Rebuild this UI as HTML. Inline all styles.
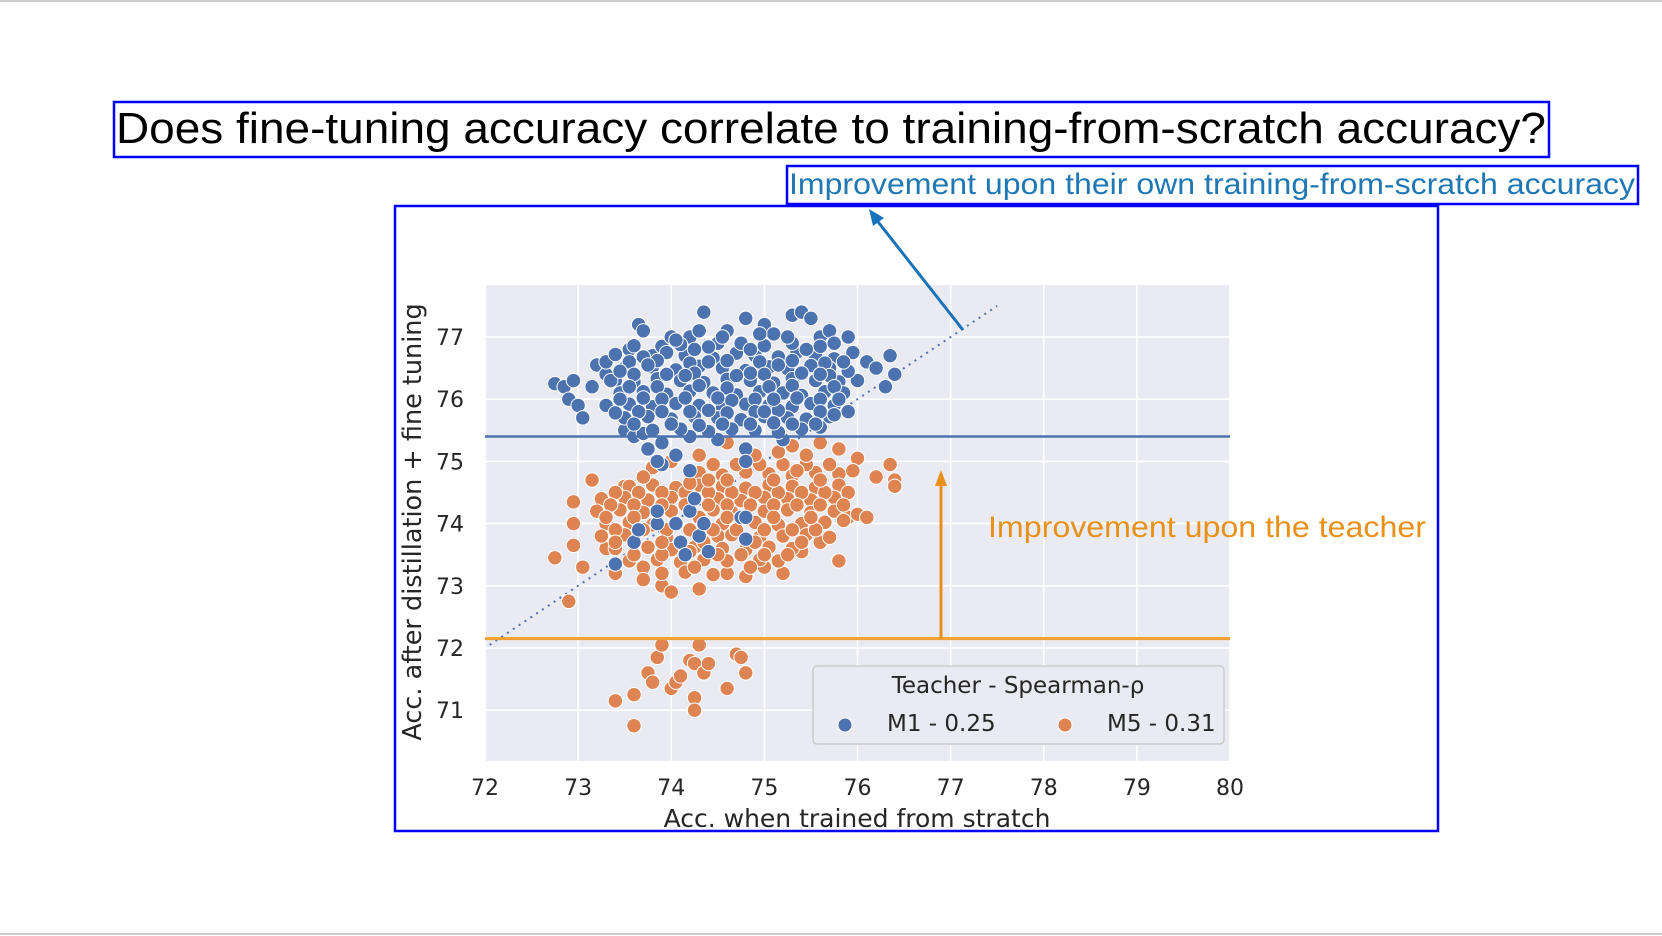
<!DOCTYPE html>
<html><head><meta charset="utf-8"><style>
html,body{margin:0;padding:0;background:#fff;width:1662px;height:936px;overflow:hidden}
svg{display:block}
</style></head><body>
<svg id="page" width="1662" height="936" viewBox="0 0 1662 936" xmlns="http://www.w3.org/2000/svg">
<rect x="0" y="0" width="1662" height="936" fill="#fff"/>
<line x1="0" y1="1" x2="1662" y2="1" stroke="#ccc" stroke-width="2"/>
<line x1="0" y1="934" x2="1662" y2="934" stroke="#ccc" stroke-width="2"/>
<g>
<rect x="114" y="102" width="1435" height="55" fill="none" stroke="#0000ff" stroke-width="2.5"/>
<text x="116" y="143" font-family="Liberation Sans, sans-serif" font-size="44" fill="#000" textLength="1430" lengthAdjust="spacingAndGlyphs">Does fine-tuning accuracy correlate to training-from-scratch accuracy?</text>
</g>
<g>
<rect x="787" y="166" width="851" height="38" fill="none" stroke="#0000ff" stroke-width="2.5"/>
<text x="789" y="194" font-family="Liberation Sans, sans-serif" font-size="30" fill="#1f77b4" textLength="846" lengthAdjust="spacingAndGlyphs">Improvement upon their own training-from-scratch accuracy</text>
</g>
<rect x="395" y="206" width="1043" height="625" fill="none" stroke="#0000ff" stroke-width="2.5"/>
<g id="chart"></g>
</svg>
<script>
const xTicks = [72,73,74,75,76,77,78,79,80];
const yTicks = [71,72,73,74,75,76,77];
const teacherM1 = 75.4;
const teacherM5 = 72.15;
const legendLabels = ["M1 - 0.25","M5 - 0.31"];
const m1Points = [
[72.75,76.25],[72.85,76.2],[72.95,76.3],[72.9,76.0],[73.0,75.9],[73.05,75.7],[73.15,76.2],[73.2,76.55],[73.3,76.4],[73.3,76.6],[73.4,76.3],[73.5,75.5],[73.6,75.4],[73.55,76.8],[73.65,77.2],[73.7,77.1],[73.8,76.7],[73.9,76.85],[74.0,77.0],[74.2,77.0],[74.3,77.1],[74.35,77.4],[74.5,76.9],[74.6,77.1],[74.8,77.3],[75.0,77.2],[75.1,77.05],[75.3,77.35],[75.4,77.4],[75.5,77.3],[75.6,77.0],[75.7,77.1],[75.9,77.0],[75.95,76.75],[76.1,76.6],[76.2,76.5],[76.35,76.7],[76.4,76.4],[76.3,76.2],[76.0,76.3],[75.9,75.8],[75.6,75.55],[75.2,75.35],[74.8,75.2],[74.5,75.35],[74.2,75.4],[73.9,75.3],[73.7,75.45],[73.75,75.2],
[73.4,76.72],[73.7,76.68],[73.95,76.75],[74.15,76.7],[74.45,76.66],[74.7,76.74],[74.9,76.7],[75.15,76.68],[75.35,76.76],[75.55,76.7],[75.75,76.65],
[73.5,76.5],[73.8,76.52],[74.05,76.47],[74.3,76.53],[74.55,76.5],[74.8,76.46],[75.05,76.52],[75.25,76.49],[75.5,76.54],[75.7,76.5],[75.9,76.45],
[73.35,76.3],[73.6,76.28],[73.85,76.33],[74.1,76.3],[74.35,76.27],[74.6,76.32],[74.85,76.3],[75.1,76.26],[75.3,76.33],[75.55,76.3],[75.8,76.28],
[73.45,76.1],[73.7,76.12],[73.95,76.08],[74.2,76.13],[74.45,76.1],[74.7,76.07],[74.95,76.12],[75.2,76.1],[75.4,76.06],[75.65,76.12],[75.85,76.1],
[73.3,75.9],[73.55,75.92],[73.8,75.88],[74.05,75.93],[74.3,75.9],[74.55,75.87],[74.8,75.92],[75.05,75.9],[75.3,75.88],[75.5,75.93],[75.75,75.9],
[73.5,75.7],[73.75,75.72],[74.0,75.68],[74.25,75.72],[74.5,75.7],[74.75,75.67],[75.0,75.72],[75.25,75.7],[75.45,75.68],[75.7,75.72],
[73.8,75.5],[74.1,75.52],[74.4,75.48],[74.65,75.52],[74.9,75.5],[75.15,75.47],[75.4,75.52],
[73.6,76.86],[74.1,76.88],[74.4,76.84],[74.75,76.9],[75.0,76.86],[75.3,76.9],[75.6,76.85],
[73.55,76.6],[73.85,76.62],[74.2,76.58],[74.6,76.62],[74.95,76.6],[75.3,76.62],[75.65,76.58],
[73.6,76.4],[73.95,76.4],[74.25,76.42],[74.7,76.38],[75.0,76.4],[75.4,76.42],[75.7,76.38],
[73.55,76.2],[73.85,76.2],[74.3,76.22],[74.6,76.18],[75.05,76.2],[75.3,76.22],[75.75,76.2],
[73.45,76.0],[73.9,76.0],[74.15,76.02],[74.65,75.98],[74.9,76.0],[75.35,76.02],[75.6,76.0],
[73.65,75.8],[73.9,75.8],[74.4,75.82],[74.6,75.78],[74.9,75.8],[75.15,75.82],[75.6,75.8],
[73.6,75.6],[74.0,75.6],[74.3,75.58],[74.85,75.6],[75.1,75.62],[75.55,75.6],
[74.05,76.95],[74.55,77.0],[74.95,77.05],[75.25,77.0],[75.75,76.9],[74.25,76.8],[74.85,76.8],[75.45,76.8],[73.75,76.55],[74.4,76.6],[75.15,76.55],[75.85,76.6],[73.45,76.45],[74.15,76.38],[74.85,76.42],[75.6,76.4],[73.7,76.02],[74.5,76.02],[75.1,76.0],[75.8,76.0],[73.4,75.78],[74.2,75.8],[75.0,75.8],[75.75,75.75],[74.55,75.6],[75.3,75.6],
[73.4,73.35],[73.6,73.7],[73.65,73.9],[73.85,74.0],[73.85,74.2],[74.05,74.0],[74.1,73.7],[74.15,73.5],[74.2,74.2],[74.25,74.4],[74.3,73.8],[74.35,74.0],[74.4,73.55],[74.75,74.1],[74.8,74.1],[74.8,73.75],[73.9,74.95],[74.2,74.85],[74.8,75.0],[74.05,75.1],[73.85,75.0]
];
const m5Points = [
[72.75,73.45],[72.9,72.75],[72.95,73.65],[72.95,74.35],[72.95,74.0],[73.05,73.3],[73.15,74.7],[73.3,73.6],[73.4,73.2],[73.5,74.6],[73.7,73.3],[73.9,73.0],[74.0,72.9],[74.3,72.95],[74.6,73.2],[74.8,73.15],[75.0,73.3],[75.2,73.2],[75.4,73.55],[75.6,73.7],[75.8,73.4],[75.9,74.1],[76.0,74.15],[76.1,74.1],[76.2,74.75],[76.35,74.95],[76.4,74.7],[76.4,74.6],[76.0,75.05],[75.8,75.2],[75.6,75.3],[75.3,75.25],[74.8,75.2],[74.6,75.3],[74.3,75.1],[74.0,75.0],[73.8,74.9],
[74.3,74.82],[74.55,74.78],[74.8,74.83],[75.05,74.8],[75.3,74.77],[75.55,74.82],[75.8,74.8],
[73.55,74.6],[73.8,74.62],[74.05,74.58],[74.3,74.62],[74.55,74.6],[74.8,74.57],[75.05,74.62],[75.3,74.6],[75.55,74.58],[75.8,74.62],
[73.25,74.4],[73.5,74.42],[73.75,74.38],[74.0,74.42],[74.5,74.4],[74.75,74.37],[75.0,74.42],[75.25,74.4],[75.5,74.38],[75.75,74.42],
[73.2,74.2],[73.45,74.22],[73.7,74.18],[74.0,74.2],[74.45,74.22],[74.65,74.18],[75.0,74.2],[75.25,74.22],[75.5,74.18],[75.75,74.2],
[73.3,74.0],[73.55,74.02],[73.8,73.98],[74.55,74.0],[74.9,74.02],[75.15,73.98],[75.4,74.0],[75.65,74.02],
[73.25,73.8],[73.5,73.82],[73.95,73.78],[74.5,73.8],[74.65,73.82],[74.95,73.78],[75.2,73.8],[75.45,73.82],[75.7,73.78],
[73.4,73.6],[73.75,73.62],[74.0,73.58],[74.25,73.62],[74.55,73.6],[74.8,73.58],[75.05,73.62],[75.3,73.6],
[73.55,73.4],[73.85,73.42],[74.1,73.38],[74.35,73.42],[74.6,73.4],[74.95,73.42],[75.15,73.4],
[73.9,73.2],[74.15,73.22],[74.45,73.18],
[73.4,74.5],[73.65,74.5],[73.9,74.5],[74.15,74.5],[74.4,74.5],[74.65,74.5],[74.9,74.5],[75.15,74.5],[75.4,74.5],[75.65,74.5],[75.9,74.5],
[73.35,74.3],[73.6,74.3],[73.9,74.3],[74.15,74.3],[74.4,74.3],[74.6,74.3],[74.85,74.3],[75.1,74.3],[75.35,74.3],[75.6,74.3],[75.85,74.3],
[73.4,73.9],[73.7,73.9],[73.95,73.9],[74.2,73.9],[74.45,73.9],[74.7,73.9],[75.0,73.9],[75.3,73.9],[75.55,73.9],
[73.6,73.5],[73.9,73.5],[74.2,73.55],[74.5,73.5],[74.75,73.5],[75.0,73.5],[75.25,73.5],
[74.45,74.95],[74.7,74.95],[74.95,74.95],[75.2,74.95],[75.45,74.95],[75.7,74.95],[74.9,75.1],[75.15,75.15],[75.45,75.1],
[74.2,74.65],[74.4,74.7],[73.7,74.75],
[73.3,74.1],[73.6,74.1],[74.3,74.1],[74.6,74.1],[75.1,74.1],[75.5,74.1],[75.85,74.05],[73.4,73.7],[73.9,73.7],[74.35,73.7],[74.9,73.7],[75.4,73.7],[73.7,73.1],[74.25,73.3],[74.85,73.3],[75.1,74.7],[75.6,74.7],[75.95,74.85],[74.6,74.7],[75.35,74.85],
[73.4,71.15],[73.6,70.75],[73.6,71.25],[73.75,71.6],[73.8,71.45],[73.85,71.85],[73.9,72.05],[74.0,71.35],[74.05,71.45],[74.1,71.55],[74.2,71.8],[74.25,71.75],[74.25,71.2],[74.25,71.0],[74.3,72.05],[74.35,71.6],[74.4,71.75],[74.6,71.35],[74.7,71.9],[74.75,71.85],[74.8,71.6]
];
const diagStart = 72.05, diagEnd = 77.5;

const NS = "http://www.w3.org/2000/svg";
const g = document.getElementById("chart");
const L = 485, R = 1230, T = 285, B = 761;
const X = v => L + (v - 72) * (R - L) / 8;
const Y = v => 337 + (77 - v) * 62.2;
function mk(tag, attrs, parent) {
  const e = document.createElementNS(NS, tag);
  for (const k in attrs) e.setAttribute(k, attrs[k]);
  (parent || g).appendChild(e);
  return e;
}
const FONT = "DejaVu Sans, Liberation Sans, sans-serif";
let e = mk("rect", {x: L, y: T, width: R - L, height: B - T, fill: "#eaeaf2"});


xTicks.forEach(t => {
  const gl = mk("line", {x1: X(t), x2: X(t), y1: T, y2: B, stroke: "#fff", "stroke-width": 1.6});
  
  
  const tl = mk("text", {x: X(t), y: 795, "text-anchor": "middle", "font-family": FONT, "font-size": 22, fill: "#262626"});
  tl.textContent = t;
  
  
});
yTicks.forEach(t => {
  const gl = mk("line", {x1: L, x2: R, y1: Y(t), y2: Y(t), stroke: "#fff", "stroke-width": 1.6});
  
  
  const tl = mk("text", {x: 464, y: Y(t) + 8, "text-anchor": "end", "font-family": FONT, "font-size": 22, fill: "#262626"});
  tl.textContent = t;
  
  
});
e = mk("text", {x: 857, y: 827, "text-anchor": "middle", "font-family": FONT, "font-size": 25, fill: "#262626"});
e.textContent = "Acc. when trained from stratch";


e = mk("text", {x: 0, y: 0, "text-anchor": "middle", "font-family": FONT, "font-size": 25.5, fill: "#262626", transform: "translate(421,522) rotate(-90)"});
e.textContent = "Acc. after distillation + fine tuning";


e = mk("line", {x1: X(diagStart), y1: Y(diagStart), x2: X(diagEnd), y2: Y(diagEnd), stroke: "#4c72b0", "stroke-width": 2, "stroke-dasharray": "2 5"});


m5Points.forEach(p => {
  const c = mk("circle", {cx: X(p[0]), cy: Y(p[1]), r: 7.2, fill: "#dd8452", stroke: "#fff", "stroke-width": 1});
  
  
});
m1Points.forEach(p => {
  const c = mk("circle", {cx: X(p[0]), cy: Y(p[1]), r: 7.2, fill: "#4c72b0", stroke: "#fff", "stroke-width": 1});
  
  
});
e = mk("line", {x1: L, x2: R, y1: Y(teacherM1), y2: Y(teacherM1), stroke: "#4c72b0", "stroke-width": 2.5});


e = mk("line", {x1: L, x2: R, y1: Y(teacherM5), y2: Y(teacherM5), stroke: "#f0a030", "stroke-width": 3});


e = mk("line", {x1: 941, x2: 941, y1: Y(teacherM5), y2: 482, stroke: "#e8901a", "stroke-width": 3});


e = mk("polygon", {points: "941,470 935,486 947,486", fill: "#e8901a"});


e = mk("text", {x: 988, y: 537, "font-family": "Liberation Sans, sans-serif", "font-size": 30, fill: "#e8901a", textLength: 438, lengthAdjust: "spacingAndGlyphs"});
e.textContent = "Improvement upon the teacher";


e = mk("line", {x1: 963, y1: 330, x2: 875, y2: 218, stroke: "#1a73b8", "stroke-width": 3});


e = mk("polygon", {points: "869,209 873,226 884,218", fill: "#1a73b8"});


const lg = mk("g", {});


mk("rect", {x: 813, y: 666, width: 411, height: 78, rx: 4, fill: "#eaeaf2", stroke: "#cccccc", "stroke-width": 1.5}, lg);
e = mk("text", {x: 1018, y: 693, "text-anchor": "middle", "font-family": FONT, "font-size": 23, fill: "#262626"}, lg);
e.textContent = "Teacher - Spearman-ρ";


const lcols = ["#4c72b0", "#dd8452"];
const lx = [845, 1065];
legendLabels.forEach((lab, i) => {
  const c = mk("circle", {cx: lx[i], cy: 725, r: 7, fill: lcols[i], stroke: "#fff", "stroke-width": 1}, lg);
  
  
  const t = mk("text", {x: lx[i] + 42, y: 731, "font-family": FONT, "font-size": 23, fill: "#262626"}, lg);
  t.textContent = lab;
  
  
});
</script>
</body></html>
